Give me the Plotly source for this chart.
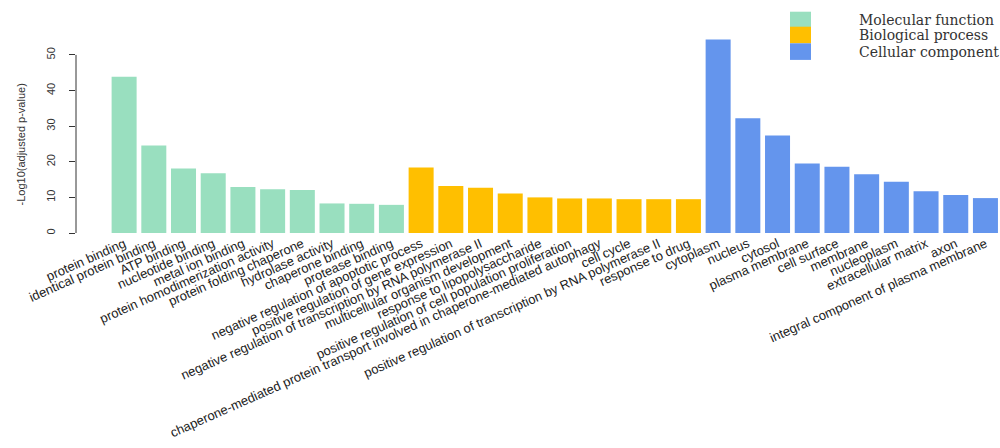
import plotly.graph_objects as go

# GO enrichment terms, grouped by ontology
mf_terms = ["protein binding", "identical protein binding", "ATP binding",
            "nucleotide binding", "metal ion binding",
            "protein homodimerization activity", "protein folding chaperone",
            "hydrolase activity", "chaperone binding", "protease binding"]
mf_values = [43.9, 24.6, 18.1, 16.8, 12.9, 12.3, 12.1, 8.3, 8.2, 7.9]

bp_terms = ["negative regulation of apoptotic process",
            "positive regulation of gene expression",
            "negative regulation of transcription by RNA polymerase II",
            "multicellular organism development",
            "response to lipopolysaccharide",
            "positive regulation of cell population proliferation",
            "chaperone-mediated protein transport involved in chaperone-mediated autophagy",
            "cell cycle",
            "positive regulation of transcription by RNA polymerase II",
            "response to drug"]
bp_values = [18.4, 13.2, 12.7, 11.1, 10.0, 9.7, 9.7, 9.5, 9.5, 9.5]

cc_terms = ["cytoplasm", "nucleus", "cytosol", "plasma membrane", "cell surface",
            "membrane", "nucleoplasm", "extracellular matrix", "axon",
            "integral component of plasma membrane"]
cc_values = [54.3, 32.2, 27.4, 19.5, 18.6, 16.5, 14.4, 11.7, 10.7, 9.8]

groups = ["Molecular function", "Biological process", "Cellular component"]
colors = ["#99DFBF", "#FFBF00", "#6495ED"]
y_ticks = [0, 10, 20, 30, 40, 50]

all_terms = mf_terms + bp_terms + cc_terms
fig = go.Figure()

start = 0
for name, terms, vals, col in zip(groups, [mf_terms, bp_terms, cc_terms],
                                  [mf_values, bp_values, cc_values], colors):
    xs = list(range(start, start + len(terms)))
    fig.add_trace(go.Bar(x=xs, y=vals, name=name, marker_color=col,
                         marker_line_width=0, showlegend=False))
    start += len(terms)

W, H = 1000, 448
ML, MR, MT, MB = 76, 0, 30, 215
PW, PH = W - ML - MR, H - MT - MB

n = len(all_terms)
fig.update_layout(
    width=W, height=H,
    margin=dict(l=ML, r=MR, t=MT, b=MB),
    paper_bgcolor="white", plot_bgcolor="white",
    bargap=0.158,
    font=dict(family="Liberation Sans, Arial, sans-serif", color="#222"),
    xaxis=dict(range=[-1.62, n - 0.51], tickmode="array",
               tickvals=list(range(n)), ticktext=all_terms,
               tickangle=-24, tickfont=dict(size=13, color="#222"),
               showline=False, showgrid=False, zeroline=False, ticks=""),
    yaxis=dict(range=[0, 57], tickmode="array", tickvals=y_ticks,
               tickangle=-90, tickfont=dict(size=11, color="#333"),
               ticks="outside", ticklen=6, tickcolor="#333",
               ticklabelstandoff=10,
               showline=False, showgrid=False, zeroline=False),
)

# y axis title placed as rotated text
fig.add_annotation(xref="paper", yref="paper", x=(20 - ML) / PW,
                   y=(H - MB - 144.5) / PH, text="-Log10(adjusted p-value)",
                   textangle=-90, showarrow=False, xanchor="center",
                   yanchor="middle", font=dict(size=11, color="#333"))

# y axis line spanning the tick range only
fig.add_shape(type="line", xref="paper", yref="y", x0=0, x1=0,
              y0=y_ticks[0], y1=y_ticks[-1], line=dict(color="#333", width=1))

# custom legend: stacked swatches with serif labels
sw_x0, sw_x1 = 790, 811
sw_tops = [11.7, 26.7, 43.3]
sw_h = 16.6
for i, (name, col) in enumerate(zip(groups, colors)):
    y0 = sw_tops[i]
    fig.add_shape(type="rect", xref="paper", yref="paper",
                  x0=(sw_x0 - ML) / PW, x1=(sw_x1 - ML) / PW,
                  y0=(H - MB - (y0 + sw_h)) / PH, y1=(H - MB - y0) / PH,
                  fillcolor=col, line_width=0, layer="above")
    fig.add_annotation(xref="paper", yref="paper",
                       x=(857 - ML) / PW, y=(H - MB - (y0 + sw_h / 2)) / PH,
                       text=name, showarrow=False, xanchor="left", yanchor="middle",
                       font=dict(family="DejaVu Serif, Liberation Serif, serif",
                                 size=14, color="#333"))

fig.write_html("out.html")
